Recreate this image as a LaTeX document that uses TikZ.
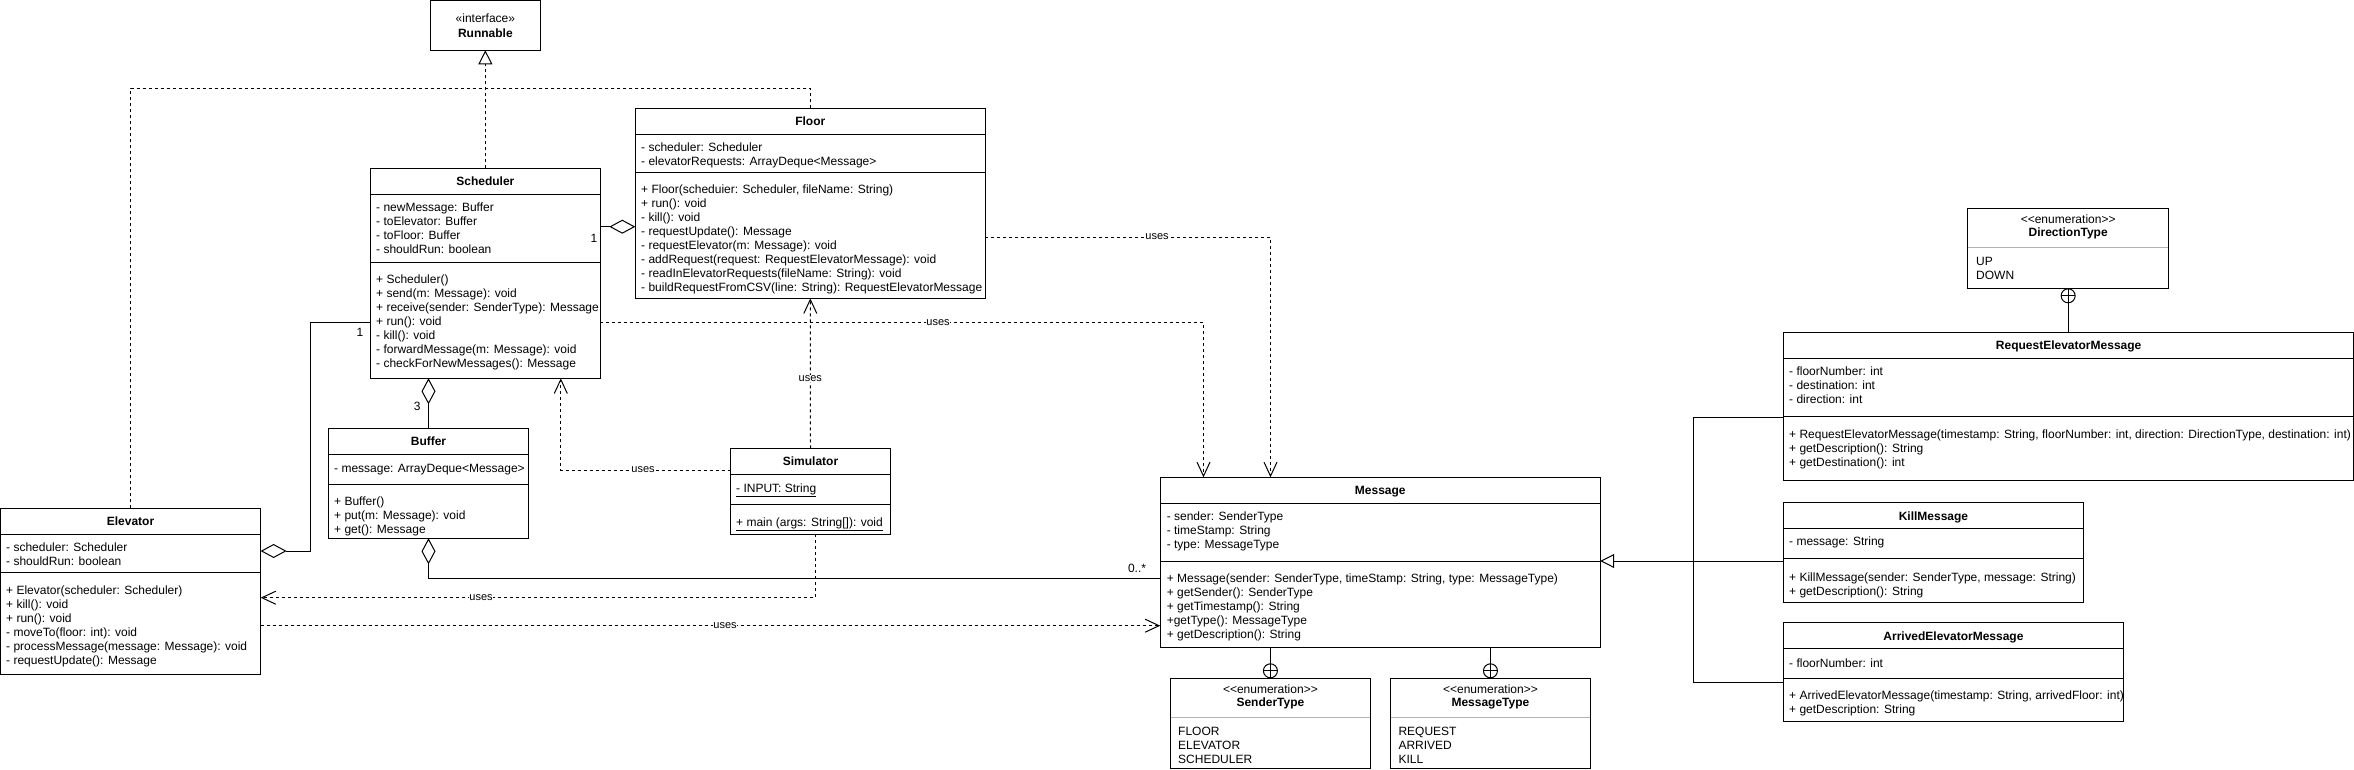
\documentclass[tikz,border=0pt]{standalone}
\usepackage{fontspec}
\setmainfont{Liberation Sans}
\usetikzlibrary{arrows.meta}
\tikzset{
  box/.style={draw, line width=1pt, fill=white, inner sep=0pt, outer sep=0pt, anchor=north west},
  txt/.style={anchor=base west, inner sep=0pt, font=\fontsize{12}{14}\selectfont},
  ttl/.style={anchor=base, inner sep=0pt, font=\fontsize{12}{14}\selectfont\bfseries},
  stereo/.style={anchor=base, inner sep=0pt, font=\fontsize{12}{14}\selectfont},
  lbl/.style={fill=white, inner sep=0.5pt, font=\fontsize{11}{13}\selectfont},
  mult/.style={inner sep=0pt, font=\fontsize{12}{14}\selectfont},
  conn/.style={line width=1pt},
  dep/.style={line width=1pt, dash pattern=on 3pt off 3pt, -{Straight Barb[length=14pt,width=13pt]}},
  real/.style={line width=1pt, dash pattern=on 3pt off 3pt},
  aggr/.style={line width=1pt, -{Diamond[length=26pt,width=14pt,fill=white]}},
  gen/.style={line width=1pt, -{Triangle[length=14pt,width=14pt,fill=white]}},
}
\newcommand\umlbox[5]{\node[box, minimum width={(#4-#2)*1pt}, minimum height={(#5-#3)*1pt}] (#1) at (#2,#3) {};}
\newcommand\cmpline[2]{\draw[line width=1pt] (#1.west |- 0,#2) -- (#1.east |- 0,#2);}
\newcommand\enumline[2]{\draw[line width=1pt, black!30] ([xshift=0.5pt]#1.west |- 0,#2) -- ([xshift=-0.5pt]#1.east |- 0,#2);}
\newcommand\lns[1]{\begin{tabular}[t]{@{}l@{}}#1\end{tabular}}
\newcommand\nplus[1]{\draw[line width=1pt, fill=white] (#1) circle[radius=7pt];
  \draw[line width=1pt] ([xshift=-7pt]#1) -- ([xshift=7pt]#1) ([yshift=-7pt]#1) -- ([yshift=7pt]#1);}
\begin{document}
\begin{tikzpicture}[x=1pt,y=-1pt]
\useasboundingbox (0,0) rectangle (2354,769);

% Runnable
\umlbox{run}{430.2}{0.5}{540.5}{50.3}
\node[stereo] (run-s) at (485.35,22) {«interface»};
\node[ttl] (run-t) at (485.35,37) {Runnable};

% Scheduler
\umlbox{sch}{370.5}{168.3}{600.2}{378.3}
\cmpline{sch}{194.3}\cmpline{sch}{262.3}
\node[ttl] (sch-t) at (485.35,185.7) {Scheduler};
\node[txt] (sch-a) at (376,211.7) {\lns{- newMessage: Buffer\\- toElevator: Buffer\\- toFloor: Buffer\\- shouldRun: boolean}};
\node[txt] (sch-m) at (376,283.7) {\lns{+ Scheduler()\\+ send(m: Message): void\\+ receive(sender: SenderType): Message\\+ run(): void\\- kill(): void\\- forwardMessage(m: Message): void\\- checkForNewMessages(): Message}};

% Floor
\umlbox{flr}{635.3}{108.3}{985.3}{298.3}
\cmpline{flr}{134.3}\cmpline{flr}{172.3}
\node[ttl] (flr-t) at (810.3,125.7) {Floor};
\node[txt] (flr-a) at (641,151.7) {\lns{- scheduler: Scheduler\\- elevatorRequests: ArrayDeque<Message>}};
\node[txt] (flr-m) at (641,193.3) {\lns{+ Floor(scheduier: Scheduler, fileName: String)\\+ run(): void\\- kill(): void\\- requestUpdate(): Message\\- requestElevator(m: Message): void\\- addRequest(request: RequestElevatorMessage): void\\- readInElevatorRequests(fileName: String): void\\- buildRequestFromCSV(line: String): RequestElevatorMessage}};

% Buffer
\umlbox{buf}{328.3}{428.3}{528.7}{538.3}
\cmpline{buf}{454.3}\cmpline{buf}{484.3}
\node[ttl] (buf-t) at (428.5,445.7) {Buffer};
\node[txt] (buf-a) at (334,472.3) {\lns{- message: ArrayDeque<Message>}};
\node[txt] (buf-m) at (334,505.7) {\lns{+ Buffer()\\+ put(m: Message): void\\+ get(): Message}};

% Simulator
\umlbox{sim}{730.7}{448.3}{890.3}{534.3}
\cmpline{sim}{474.3}\cmpline{sim}{504.3}
\node[ttl] (sim-t) at (810.5,465.7) {Simulator};
\node[txt] (sim-a) at (736,492.3) {\underline{- INPUT: String}};
\node[txt] (sim-m) at (736,526.3) {\underline{+ main (args: String[]): void}};

% Elevator
\umlbox{elv}{0.5}{508.3}{260.6}{674.3}
\cmpline{elv}{534.3}\cmpline{elv}{572.3}
\node[ttl] (elv-t) at (130.5,525.7) {Elevator};
\node[txt] (elv-a) at (6,551.7) {\lns{- scheduler: Scheduler\\- shouldRun: boolean}};
\node[txt] (elv-m) at (6,594) {\lns{+ Elevator(scheduler: Scheduler)\\+ kill(): void\\+ run(): void\\- moveTo(floor: int): void\\- processMessage(message: Message): void\\- requestUpdate(): Message}};

% Message
\umlbox{msg}{1160.3}{477.3}{1600.2}{647}
\cmpline{msg}{503.3}\cmpline{msg}{561}
\node[ttl] (msg-t) at (1380.25,494.7) {Message};
\node[txt] (msg-a) at (1166.6,520.7) {\lns{- sender: SenderType\\- timeStamp: String\\- type: MessageType}};
\node[txt] (msg-m) at (1166.6,582.3) {\lns{+ Message(sender: SenderType, timeStamp: String, type: MessageType)\\+ getSender(): SenderType\\+ getTimestamp(): String\\+getType(): MessageType\\+ getDescription(): String}};

% SenderType
\umlbox{snd}{1170}{678.3}{1370.8}{768.3}
\enumline{snd}{717.3}
\node[stereo] (snd-s) at (1270.4,693) {<{}<enumeration>{}>};
\node[ttl] (snd-t) at (1270.4,706.7) {SenderType};
\node[txt] (snd-v) at (1178,735.7) {\lns{FLOOR\\ELEVATOR\\SCHEDULER}};

% MessageType
\umlbox{mty}{1390.5}{678.3}{1590.4}{768.3}
\enumline{mty}{717.3}
\node[stereo] (mty-s) at (1490.45,693) {<{}<enumeration>{}>};
\node[ttl] (mty-t) at (1490.45,706.7) {MessageType};
\node[txt] (mty-v) at (1398.3,735.7) {\lns{REQUEST\\ARRIVED\\KILL}};

% DirectionType
\umlbox{dir}{1967.9}{208.3}{2168.4}{288.3}
\enumline{dir}{247.7}
\node[stereo] (dir-s) at (2068.15,223.3) {<{}<enumeration>{}>};
\node[ttl] (dir-t) at (2068.15,236.7) {DirectionType};
\node[txt] (dir-v) at (1976,265) {\lns{UP\\DOWN}};

% RequestElevatorMessage
\umlbox{req}{1783.7}{332.7}{2353.6}{480}
\cmpline{req}{358.3}\cmpline{req}{416.7}
\node[ttl] (req-t) at (2068.65,349.7) {RequestElevatorMessage};
\node[txt] (req-a) at (1789,375.7) {\lns{- floorNumber: int\\- destination: int\\- direction: int}};
\node[txt] (req-m) at (1789,438) {\lns{+ RequestElevatorMessage(timestamp: String, floorNumber: int, direction: DirectionType, destination: int)\\+ getDescription(): String\\+ getDestination(): int}};

% KillMessage
\umlbox{kil}{1783.5}{502.3}{2083.4}{602.3}
\cmpline{kil}{528.3}\cmpline{kil}{558.3}
\node[ttl] (kil-t) at (1933.45,520.7) {KillMessage};
\node[txt] (kil-a) at (1789,545.7) {\lns{- message: String}};
\node[txt] (kil-m) at (1789,581.3) {\lns{+ KillMessage(sender: SenderType, message: String)\\+ getDescription(): String}};

% ArrivedElevatorMessage
\umlbox{arr}{1783.5}{622.3}{2123.4}{721.7}
\cmpline{arr}{648.3}\cmpline{arr}{678.3}
\node[ttl] (arr-t) at (1953.45,640.7) {ArrivedElevatorMessage};
\node[txt] (arr-a) at (1789,667.3) {\lns{- floorNumber: int}};
\node[txt] (arr-m) at (1789,699) {\lns{+ ArrivedElevatorMessage(timestamp: String, arrivedFloor: int)\\+ getDescription: String}};

% realization to Runnable
\coordinate (jn) at (485.35,88.3);
\draw[real, -{Triangle[length=14pt,width=14pt,fill=white]}] (sch.north) -- (run.south);
\draw[real] (elv.north) |- (jn);
\draw[real] (flr.north) |- (jn);

% aggregations
\draw[aggr] (sch.east |- 0,226.7) -- (flr.west |- 0,226.7);
\draw[aggr] (sch.west |- 0,322) -| (310.8,551) -- (elv.east |- 0,551);
\draw[aggr] (buf.north) -- (buf.north |- sch.south);
\draw[aggr] (msg.west |- 0,578.3) -| (buf.south);

% dependencies
\draw[dep] (sch.east |- 0,322.3) -| (msg.north -| 1203.5,0);
\draw[dep] (flr.east |- 0,237) -| (msg.north -| 1270.5,0);
\draw[dep] (sim.north) -- (flr.south);
\draw[dep] (sim.west |- 0,470) -| (sch.south -| 560.8,0);
\draw[dep] (sim.south -| 815.7,0) |- (elv.east |- 0,597.7);
\draw[dep] (elv.east |- 0,625.7) -- (msg.west |- 0,625.7);

% generalization
\draw[gen] (kil.west |- 0,561) -- (msg.east |- 0,561);
\draw[conn] (req.west |- 0,417.3) -| (1693.7,682.3) -- (arr.west |- 0,682.3);

% nesting
\draw[conn] (snd.north) -- (snd.north |- msg.south);
\draw[conn] (mty.north) -- (mty.north |- msg.south);
\draw[conn] (req.north) -- (req.north |- dir.south);
\coordinate (np1) at ([yshift=7.5pt]snd.north);
\coordinate (np2) at ([yshift=7.5pt]mty.north);
\coordinate (np3) at ([yshift=-7.5pt]dir.south);
\nplus{np1}\nplus{np2}\nplus{np3}

% labels
\node[lbl] (u1) at (938,322.3) {uses};
\node[lbl] (u2) at (1157,237) {uses};
\node[lbl] (u3) at (810.3,378.3) {uses};
\node[lbl] (u4) at (643,470) {uses};
\node[lbl] (u5) at (481,597.7) {uses};
\node[lbl] (u6) at (725,625.7) {uses};
\node[mult] (m1) at (594,238) {1};
\node[mult] (m2) at (360,332.7) {1};
\node[mult] (m3) at (417.3,406.7) {3};
\node[mult] (m4) at (1137,568.3) {0..*};
\end{tikzpicture}
\end{document}
